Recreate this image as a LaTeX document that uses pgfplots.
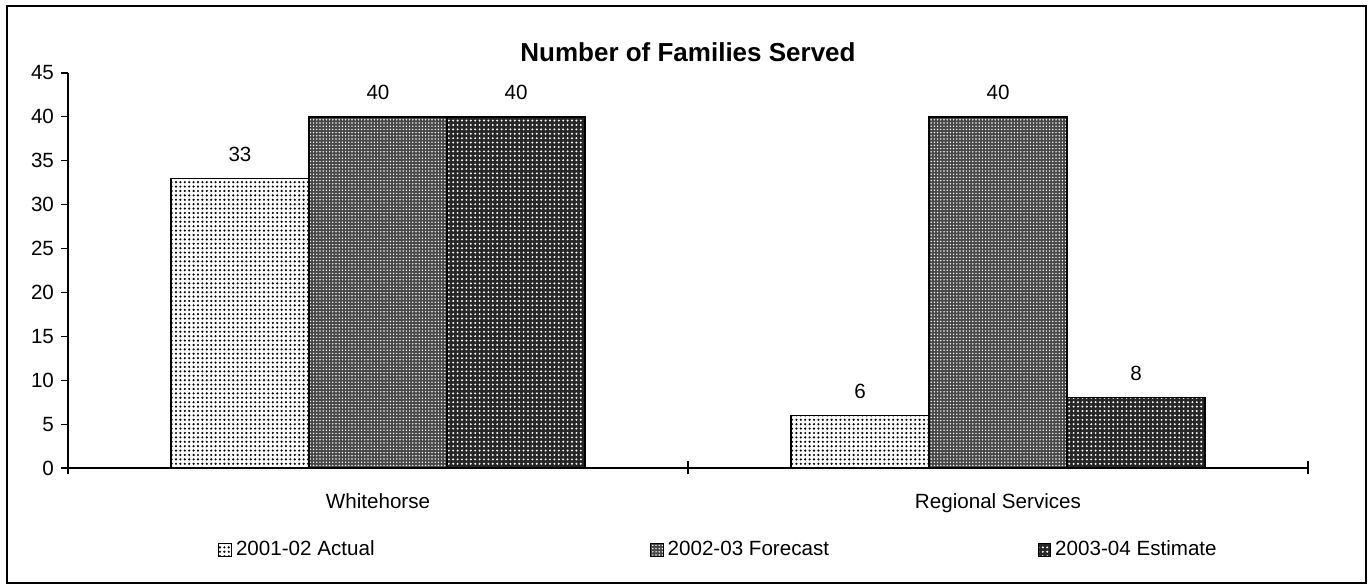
\documentclass[border=0pt]{standalone}
\usepackage{fontspec}
\setmainfont{Liberation Sans}
\usepackage{pgfplots}
\pgfplotsset{compat=1.18}
\usetikzlibrary{patterns.meta}
\pgfplotsset{
  sq/.style={legend image code/.code={\draw[##1,line width=0.4pt] (0pt,-3.2pt) rectangle (6.4pt,3.2pt);}},
}
\begin{document}
\begin{tikzpicture}
\path[use as bounding box] (0pt,0pt) rectangle (685pt,293.5pt);
\draw[line width=0.7pt] (3.5pt,2pt) rectangle (683pt,290.5pt);
\begin{axis}[
  at={(34pt,59.5pt)}, anchor=south west,
  scale only axis, width=620pt, height=197.5pt,
  ymin=0, ymax=45, ytick={0,5,...,45},
  xmin=-0.5, xmax=1.5,
  axis x line*=bottom, axis y line*=left,
  axis line style={-, line width=0.6pt},
  ybar=0pt, bar width=69pt,
  tick align=outside, major tick length=3.5pt,
  tick style={black, line width=0.6pt},
  xtick={0,1}, xticklabels={Whitehorse, Regional Services},
  x tick style={draw=none},
  extra x ticks={-0.5,0.5,1.5}, extra x tick labels={},
  extra x tick style={tick align=center, major tick length=6.5pt, x tick style={draw=black, line width=0.6pt}},
  xticklabel style={yshift=-6pt},
  tick label style={font=\fontsize{10.3}{12}\selectfont},
  /pgf/number format/assume math mode=true,
  nodes near coords,
  every node near coord/.append style={font=\fontsize{10.3}{12}\selectfont, anchor=center, yshift=12pt, black},
  title={Number of Families Served},
  title style={font=\bfseries\fontsize{13}{15}\selectfont, at={(0.5,1)}, anchor=south, yshift=-4pt},
  legend style={draw=none, inner sep=0pt, at={(0.121,-0.2076)}, anchor=west, font=\fontsize{10.3}{12}\selectfont,
     /tikz/every even column/.append style={column sep=0pt}},
  legend columns=3,
]
\addplot[sq, draw=black, line width=0.7pt, fill=white,
  postaction={pattern={Dots[distance=2.2pt,radius=0.6pt]}, pattern color=black}]
  coordinates {(0,33) (1,6)};
\addplot[sq, draw=black, line width=0.7pt, fill=black!72,
  postaction={pattern={Dots[distance=1.6pt,radius=0.4pt]}, pattern color=white}]
  coordinates {(0,40) (1,40)};
\addplot[sq, draw=black, line width=0.7pt, fill=black!85,
  postaction={pattern={Dots[distance=2.2pt,radius=0.55pt]}, pattern color=white}]
  coordinates {(0,40) (1,8)};
\legend{\makebox[205pt][l]{2001-02 Actual}, \makebox[183pt][l]{2002-03 Forecast}, 2003-04 Estimate}
\end{axis}
\end{tikzpicture}
\end{document}
